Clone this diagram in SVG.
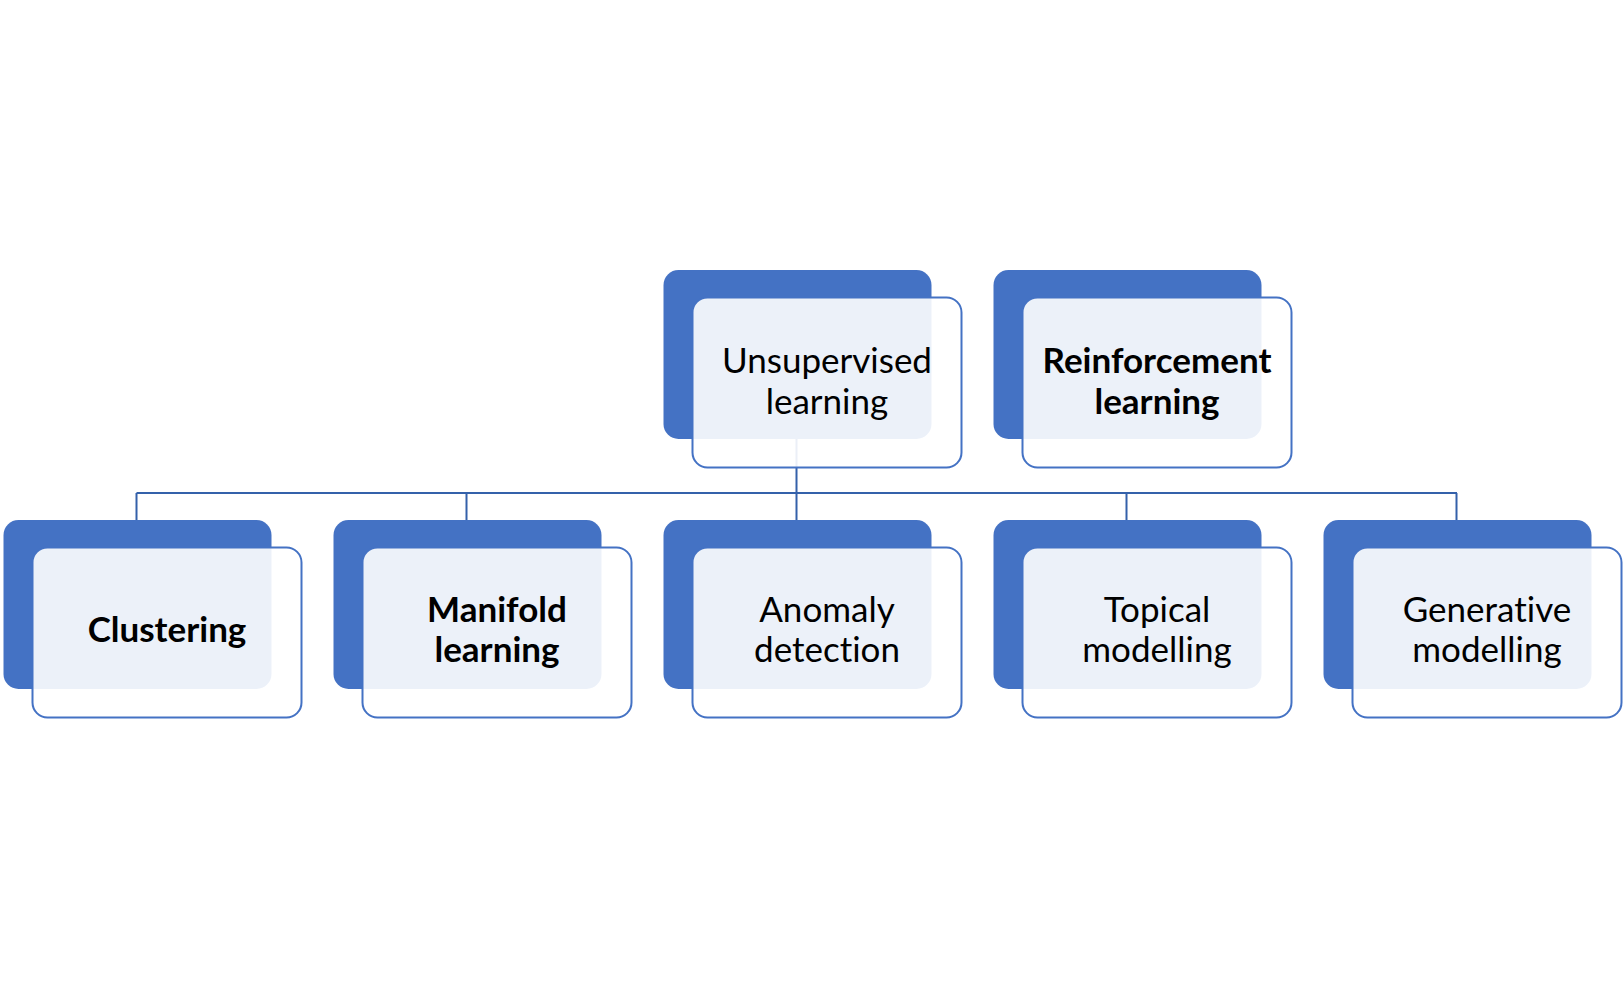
<svg xmlns="http://www.w3.org/2000/svg" width="1624" height="987" viewBox="0 0 1624 987">
<style>
.back{fill:#4472C4;}
.front{fill:#FFFFFF;fill-opacity:0.9;stroke:#4472C4;stroke-width:2;}
.conn{stroke:#3461AA;stroke-width:2;fill:none;}
.t{font-family:Lato,"Liberation Sans",sans-serif;font-size:35px;fill:#000;text-anchor:middle;font-variant-ligatures:none;font-feature-settings:"liga" 0,"clig" 0;}
.b{font-weight:bold;}
</style>
<rect width="1624" height="987" fill="#FFFFFF"/>
<g id="connectors">
<path class="conn" d="M796.5,439 V493 M136.5,493 H1457 M136.5,493 V520 M466.5,493 V520 M796.5,493 V520 M1126.5,493 V520 M1456.5,493 V520"/>
</g>
<g id="unsupervised">
<rect class="back" x="663.5" y="270" width="268" height="169" rx="15"/>
<rect class="front" x="692.5" y="297.5" width="269" height="170" rx="15"/>
<text class="t" x="827" y="373">Unsupervised</text>
<text class="t" x="827" y="414">learning</text>
</g>
<g id="reinforcement">
<rect class="back" x="993.5" y="270" width="268" height="169" rx="15"/>
<rect class="front" x="1022.5" y="297.5" width="269" height="170" rx="15"/>
<text class="t b" x="1157" y="373">Reinforcement</text>
<text class="t b" x="1157" y="414">learning</text>
</g>
<g id="clustering">
<rect class="back" x="3.5" y="520" width="268" height="169" rx="15"/>
<rect class="front" x="32.5" y="547.5" width="269" height="170" rx="15"/>
<text class="t b" x="167" y="642">Clustering</text>
</g>
<g id="manifold">
<rect class="back" x="333.5" y="520" width="268" height="169" rx="15"/>
<rect class="front" x="362.5" y="547.5" width="269" height="170" rx="15"/>
<text class="t b" x="497" y="622">Manifold</text>
<text class="t b" x="497" y="662">learning</text>
</g>
<g id="anomaly">
<rect class="back" x="663.5" y="520" width="268" height="169" rx="15"/>
<rect class="front" x="692.5" y="547.5" width="269" height="170" rx="15"/>
<text class="t" x="827" y="622">Anomaly</text>
<text class="t" x="827" y="662">detection</text>
</g>
<g id="topical">
<rect class="back" x="993.5" y="520" width="268" height="169" rx="15"/>
<rect class="front" x="1022.5" y="547.5" width="269" height="170" rx="15"/>
<text class="t" x="1157" y="622">Topical</text>
<text class="t" x="1157" y="662">modelling</text>
</g>
<g id="generative">
<rect class="back" x="1323.5" y="520" width="268" height="169" rx="15"/>
<rect class="front" x="1352.5" y="547.5" width="269" height="170" rx="15"/>
<text class="t" x="1487" y="622">Generative</text>
<text class="t" x="1487" y="662">modelling</text>
</g>
</svg>
